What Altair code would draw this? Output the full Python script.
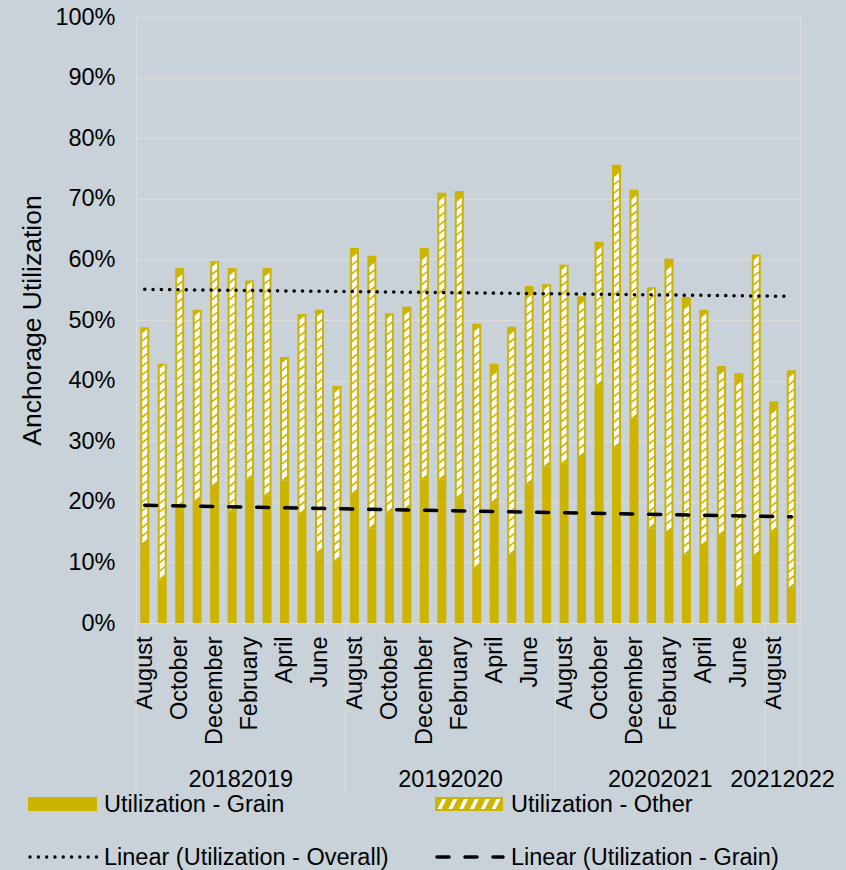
import json
import altair as alt
import pandas as pd

# ---------------- data ----------------
months = ["August", "September", "October", "November", "December", "January",
          "February", "March", "April", "May", "June", "July"] * 3 + ["August", "September"]
fiscal_years = ["20182019"] * 12 + ["20192020"] * 12 + ["20202021"] * 12 + ["20212022"] * 2
grain = [13.0, 7.2, 19.3, 20.1, 22.6, 18.4, 23.7, 21.0, 23.5, 18.0, 11.6, 10.2,
         21.3, 15.6, 18.2, 18.8, 23.7, 23.7, 20.7, 9.1, 19.9, 11.3, 22.9, 25.8,
         26.3, 27.4, 39.2, 29.0, 33.7, 15.6, 15.0, 11.3, 12.8, 14.5, 5.8, 11.1,
         15.1, 5.7]
other = [35.8, 35.6, 39.3, 31.6, 37.1, 40.2, 32.8, 37.6, 20.4, 33.0, 40.1, 28.9,
         40.6, 45.0, 32.9, 33.4, 38.2, 47.3, 50.6, 40.3, 22.9, 37.6, 32.7, 30.1,
         32.8, 26.5, 23.7, 46.6, 37.8, 39.8, 45.1, 42.5, 38.9, 27.9, 35.4, 49.7,
         21.5, 36.0]
y_ticks = list(range(0, 101, 10))

GOLD = "#CCB400"
BG = "#C8D2D8"
GRID = "#DADADA"
FONT = "Liberation Sans"
FS = 23.5

df = pd.DataFrame({"idx": list(range(len(months))), "month": months, "fy": fiscal_years,
                   "grain": grain, "other": other})
df["total"] = df["grain"] + df["other"]

# hatch marks inside the "other" segments (derived from the data)
hatch_rows = []
for i, g, t in zip(df["idx"], df["grain"], df["total"]):
    y = g + 1.0
    while y <= t - 1.0:
        hatch_rows.append({"idx": i, "h": y})
        y += 1.4
hatch = pd.DataFrame(hatch_rows)

# fiscal-year groups
grp = df.groupby("fy", sort=False)["idx"].agg(["min", "max"]).reset_index()
grp["center"] = (grp["min"] + grp["max"]) / 2
bounds = pd.DataFrame({"b": sorted(set(list(grp["min"] - 0.5) + list(grp["max"] + 0.5)))})

W, H = 664, 606

x_axis = alt.Axis(
    title=None, values=list(range(0, len(months), 2)),
    labelExpr=json.dumps(months) + "[datum.value]",
    labelAngle=270, labelAlign="right", labelBaseline="middle",
    labelFontSize=FS, labelColor="black", labelFont=FONT, labelPadding=13,
    labelOverlap=False, labelFlush=False, ticks=False, grid=False,
    domainColor=GRID, domainWidth=1.5,
)
x_scale = alt.Scale(domain=[-0.5, len(months) - 0.5], nice=False, zero=False, padding=0)
y_axis = alt.Axis(
    title="Anchorage Utilization", values=y_ticks, labelExpr="datum.value + '%'",
    labelFontSize=FS, labelColor="black", labelFont=FONT, labelPadding=21,
    ticks=False, domain=False, grid=True, gridColor=GRID, gridWidth=1.3,
    titleFontSize=26.5, titleFontWeight="normal", titleColor="black", titleFont=FONT,
    titleAngle=270, titleX=-104, titleY=H / 2, titleBaseline="middle",
)
y_scale = alt.Scale(domain=[0, 100], nice=False, padding=0)

X = alt.X("idx:Q", scale=x_scale, axis=x_axis)

grain_bars = alt.Chart(df).mark_bar(size=9, color=GOLD).encode(
    x=X, y=alt.Y("grain:Q", scale=y_scale, axis=y_axis), y2=alt.datum(0))
other_bars = alt.Chart(df).mark_bar(size=9, color=GOLD).encode(
    x=X, y=alt.Y("total:Q", scale=y_scale, axis=y_axis), y2="grain:Q")
hatch_pts = alt.Chart(hatch).mark_point(
    shape="M-2.5,5.2L-2.5,-1.2L2.5,-5.2L2.5,1.2Z", size=4, filled=True,
    color="white", opacity=1, strokeWidth=0).encode(
    x=X, y=alt.Y("h:Q", scale=y_scale, axis=y_axis))

trend_total = alt.Chart(df).transform_regression("idx", "total").mark_line(
    color="black", strokeDash=[0.1, 8.2], strokeCap="round", strokeWidth=3.5).encode(
    x=X, y=alt.Y("total:Q", scale=y_scale, axis=y_axis))
trend_grain = alt.Chart(df).transform_regression("idx", "grain").mark_line(
    color="black", strokeDash=[12, 16], strokeCap="round", strokeWidth=3.6).encode(
    x=X, y=alt.Y("grain:Q", scale=y_scale, axis=y_axis))

seps = alt.Chart(bounds).mark_rule(color=GRID, strokeWidth=1.5).encode(
    x=alt.X("b:Q", scale=x_scale, axis=x_axis), y=alt.value(H), y2=alt.value(776))
fy_text = alt.Chart(grp).mark_text(fontSize=FS, font=FONT, color="black",
                                   baseline="alphabetic", align="center").encode(
    x=alt.X("center:Q", scale=x_scale, axis=x_axis), y=alt.value(770), text="fy:N")

# ---------------- legend ----------------
one = pd.DataFrame({"k": [0]})
leg = []
leg.append(alt.Chart(one).mark_rect(color=GOLD).encode(
    x=alt.value(-108), x2=alt.value(-39), y=alt.value(780), y2=alt.value(794)))
leg.append(alt.Chart(one).mark_text(align="left", baseline="middle", fontSize=FS,
                                     font=FONT, color="black").encode(
    x=alt.value(-32), y=alt.value(788), text=alt.value("Utilization - Grain")))
leg.append(alt.Chart(one).mark_rect(color=GOLD).encode(
    x=alt.value(299), x2=alt.value(367), y=alt.value(780), y2=alt.value(794)))
for k in range(6):
    leg.append(alt.Chart(one).mark_point(
        shape="M-4.5,5L-0.5,5L4.5,-5L0.5,-5Z", size=4, filled=True, color="white",
        opacity=1, strokeWidth=0).encode(
        x=alt.value(306 + k * 10.8), y=alt.value(787)))
leg.append(alt.Chart(one).mark_text(align="left", baseline="middle", fontSize=FS,
                                     font=FONT, color="black").encode(
    x=alt.value(375), y=alt.value(788), text=alt.value("Utilization - Other")))
leg.append(alt.Chart(one).mark_rule(color="black", strokeDash=[0.1, 8.2], strokeCap="round",
                                     strokeWidth=3.3).encode(
    x=alt.value(-106), x2=alt.value(-39), y=alt.value(840)))
leg.append(alt.Chart(one).mark_text(align="left", baseline="middle", fontSize=FS,
                                     font=FONT, color="black").encode(
    x=alt.value(-32), y=alt.value(841), text=alt.value("Linear (Utilization - Overall)")))
leg.append(alt.Chart(one).mark_rule(color="black", strokeDash=[12, 16], strokeCap="round",
                                     strokeWidth=3.5).encode(
    x=alt.value(301), x2=alt.value(367), y=alt.value(840)))
leg.append(alt.Chart(one).mark_text(align="left", baseline="middle", fontSize=FS,
                                     font=FONT, color="black").encode(
    x=alt.value(375), y=alt.value(841), text=alt.value("Linear (Utilization - Grain)")))

chart = alt.layer(grain_bars, other_bars, hatch_pts, trend_total, trend_grain,
                  seps, fy_text, *leg).properties(
    width=W, height=H, background=BG,
    autosize=alt.AutoSizeParams(type="none"),
    padding={"left": 136, "top": 17, "right": 46, "bottom": 247},
).configure_view(strokeWidth=0).configure(font=FONT)

chart.save("out.html", embed_options={"renderer": "svg", "actions": False})
